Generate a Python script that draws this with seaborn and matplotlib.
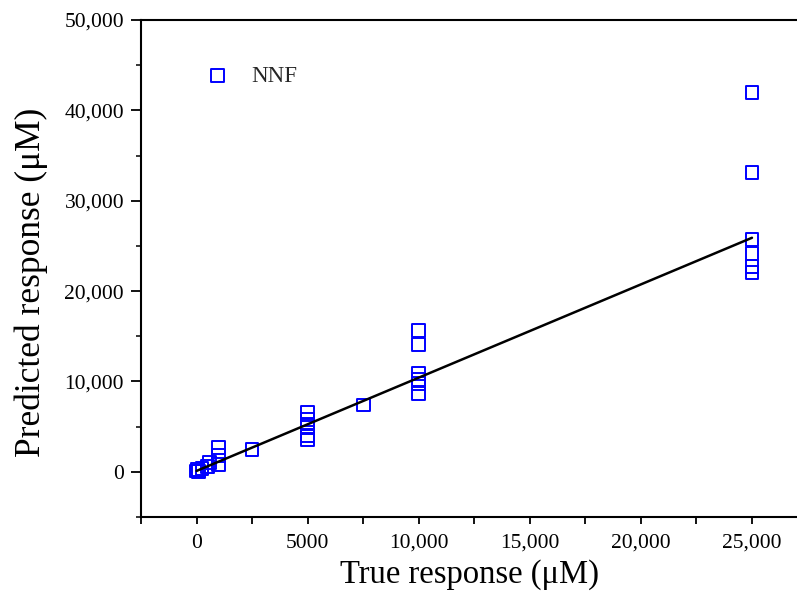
import matplotlib
matplotlib.use("Agg")
import matplotlib.pyplot as plt
import seaborn as sns
import numpy as np
import pandas as pd
from matplotlib.ticker import MultipleLocator, FixedLocator, FixedFormatter

# ---- data ----
true_x = [0, 50, 100, 250, 500, 600,
          1000, 1000, 1000,
          2500,
          5000, 5000, 5000, 5000, 5000, 5000,
          7500,
          10000, 10000, 10000, 10000, 10000, 10000,
          25000, 25000, 25000, 25000, 25000, 25000]
pred_y = [100, 300, 0, 400, 600, 1000,
          2700, 1800, 800,
          2500,
          6600, 5800, 5300, 4900, 4000, 3600,
          7400,
          15600, 14100, 10900, 10200, 9800, 8700,
          42000, 33100, 25700, 24200, 22700, 22100]
fit_x = [0, 25000]
fit_y = [100, 25900]

xtick_vals = [0, 5000, 10000, 15000, 20000, 25000]
xtick_labels = ["0", "5000", "10,000", "15,000", "20,000", "25,000"]
ytick_vals = [0, 10000, 20000, 30000, 40000, 50000]
ytick_labels = ["0", "10,000", "20,000", "30,000", "40,000", "50,000"]
series_name = "NNF"

df = pd.DataFrame({"x": true_x, "y": pred_y, "series": series_name})
fit_df = pd.DataFrame({"x": fit_x, "y": fit_y})

sns.set_theme(style="ticks")
plt.rcParams["font.family"] = ["Liberation Serif", "DejaVu Serif"]

fig = plt.figure(figsize=(7.97, 5.94), dpi=100)
W, H = 797, 594
left_px, right_px, top_px, bottom_px = 141, 807.5, 20, 517
ax = fig.add_axes([left_px / W, (H - bottom_px) / H,
                   (right_px - left_px) / W, (bottom_px - top_px) / H])

sns.scatterplot(data=df, x="x", y="y", ax=ax, marker="s", s=85,
                facecolor="none", edgecolor="#0000ff", linewidth=1.4,
                label=series_name, zorder=2)
sns.lineplot(data=fit_df, x="x", y="y", ax=ax, color="black", lw=1.8,
             zorder=3, legend=False)

ax.set_xlim(-2500, 27500)
ax.set_ylim(-5000, 50000)

ax.xaxis.set_major_locator(FixedLocator(xtick_vals))
ax.xaxis.set_major_formatter(FixedFormatter(xtick_labels))
ax.xaxis.set_minor_locator(MultipleLocator(2500))
ax.yaxis.set_major_locator(FixedLocator(ytick_vals))
ax.yaxis.set_major_formatter(FixedFormatter(ytick_labels))
ax.yaxis.set_minor_locator(MultipleLocator(5000))

ax.tick_params(axis="x", which="both", direction="out", length=5, width=1.3,
               labelsize=15.5, pad=7, colors="black")
ax.tick_params(axis="y", which="major", direction="out", length=7.2, width=1.3,
               labelsize=15.5, pad=5, colors="black")
ax.tick_params(axis="y", which="minor", direction="out", length=3.5, width=1.3)

for s in ["left", "bottom", "top"]:
    ax.spines[s].set_linewidth(1.5)
    ax.spines[s].set_color("black")
ax.spines["right"].set_visible(False)

ax.set_xlabel("True response (μM)", fontsize=23.5, color="black")
ax.set_ylabel("Predicted response (μM)", fontsize=25.5, color="black")
ax.xaxis.set_label_coords((469 - left_px) / (right_px - left_px),
                          (bottom_px - 559) / (bottom_px - top_px))
ax.yaxis.set_label_coords((48 - left_px) / (right_px - left_px),
                          (bottom_px - 282) / (bottom_px - top_px))

# legend
lx = (203 - left_px) / (right_px - left_px)
ly = (bottom_px - 76) / (bottom_px - top_px)
leg = ax.legend(loc="center left", bbox_to_anchor=(lx, ly), frameon=False,
                fontsize=16.5, handlelength=1.3, handletextpad=0.8,
                borderpad=0, borderaxespad=0)

fig.savefig("out.png", dpi=100)
